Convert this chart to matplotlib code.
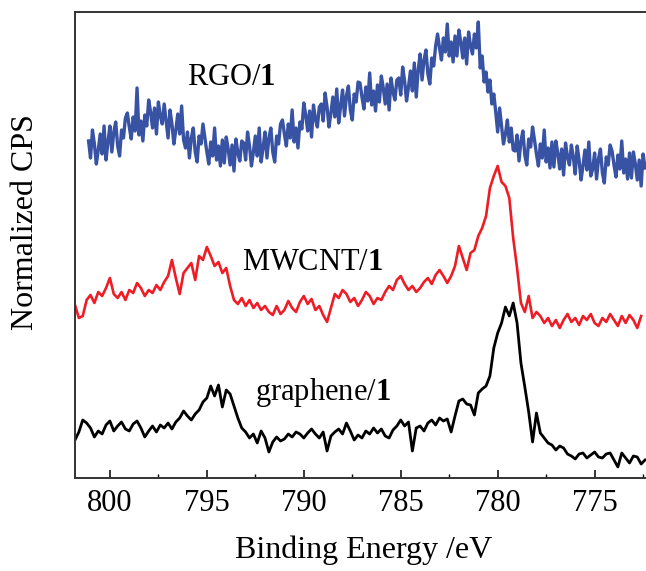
# XPS Co 2p spectra, normalized and stacked
import numpy as np
import matplotlib.pyplot as plt
from matplotlib.ticker import MultipleLocator

plt.rcParams['font.family'] = ['Liberation Serif', 'DejaVu Serif']
plt.rcParams['mathtext.fontset'] = 'custom'
plt.rcParams['mathtext.rm'] = 'Liberation Serif'
plt.rcParams['mathtext.bf'] = 'Liberation Serif:bold'

# RGO/1 : 0.1 eV steps starting at 801.1 eV
rgo_start, rgo_step = 801.1, -0.1
rgo = [
    3.37, 3.20, 3.48, 3.34, 3.14, 3.28, 3.44, 3.24, 3.52, 3.18,
    3.36, 3.52, 3.26, 3.46, 3.56, 3.32, 3.22, 3.48, 3.40, 3.60,
    3.65, 3.51, 3.39, 3.61, 3.47, 3.90, 3.43, 3.57, 3.37, 3.63,
    3.52, 3.78, 3.66, 3.50, 3.70, 3.44, 3.76, 3.62, 3.54, 3.74,
    3.57, 3.40, 3.68, 3.54, 3.34, 3.48, 3.64, 3.44, 3.72, 3.38,
    3.30, 3.46, 3.20, 3.40, 3.50, 3.26, 3.16, 3.42, 3.34, 3.54,
    3.40, 3.26, 3.14, 3.36, 3.22, 3.50, 3.18, 3.32, 3.12, 3.38,
    3.15, 3.41, 3.29, 3.13, 3.33, 3.07, 3.39, 3.25, 3.17, 3.37,
    3.35, 3.18, 3.46, 3.32, 3.12, 3.26, 3.42, 3.22, 3.50, 3.16,
    3.30, 3.46, 3.20, 3.40, 3.50, 3.26, 3.16, 3.42, 3.34, 3.54,
    3.58, 3.44, 3.32, 3.54, 3.40, 3.68, 3.36, 3.50, 3.30, 3.56,
    3.49, 3.75, 3.63, 3.47, 3.67, 3.41, 3.73, 3.59, 3.51, 3.71,
    3.74, 3.57, 3.85, 3.71, 3.51, 3.65, 3.81, 3.61, 3.89, 3.55,
    3.72, 3.88, 3.62, 3.82, 3.92, 3.68, 3.58, 3.84, 3.76, 3.96,
    3.95, 3.81, 3.69, 3.91, 3.77, 4.05, 3.73, 3.87, 3.67, 3.93,
    3.76, 4.02, 3.90, 3.74, 3.94, 3.68, 4.00, 3.86, 3.78, 3.98,
    4.00, 3.83, 4.11, 3.97, 3.77, 3.91, 4.07, 3.87, 4.15, 3.81,
    4.08, 4.24, 3.98, 4.18, 4.28, 4.04, 3.94, 4.20, 4.12, 4.32,
    4.44, 4.30, 4.18, 4.40, 4.26, 4.54, 4.22, 4.36, 4.16, 4.42,
    4.22, 4.48, 4.36, 4.20, 4.40, 4.14, 4.46, 4.32, 4.24, 4.44,
    4.30, 4.56, 4.10, 4.22, 3.96, 4.06, 3.86, 3.98, 3.74, 3.84,
    3.66, 3.46, 3.70, 3.52, 3.34, 3.44, 3.58, 3.36, 3.50, 3.28,
    3.27, 3.43, 3.17, 3.37, 3.47, 3.23, 3.13, 3.39, 3.31, 3.51,
    3.38, 3.24, 3.12, 3.34, 3.20, 3.48, 3.16, 3.30, 3.10, 3.36,
    3.11, 3.37, 3.25, 3.09, 3.29, 3.03, 3.35, 3.21, 3.13, 3.33,
    3.21, 3.04, 3.32, 3.18, 2.98, 3.12, 3.28, 3.08, 3.36, 3.02,
    3.09, 3.25, 2.99, 3.19, 3.29, 3.05, 2.95, 3.21, 3.13, 3.33,
    3.27, 3.13, 3.01, 3.23, 3.09, 3.37, 3.05, 3.19, 2.99, 3.25,
    3.00, 3.26, 3.14, 2.98, 3.18, 2.92, 3.24, 3.10,
]

# MWCNT/1 : 0.2 eV steps starting at 801.8 eV
mwcnt_start, mwcnt_step = 801.8, -0.2
mwcnt = [
    1.73, 1.60, 1.62, 1.78, 1.83, 1.75, 1.86, 1.82, 1.90, 2.00,
    1.84, 1.80, 1.86, 1.78, 1.88, 1.85, 1.95, 1.90, 1.82, 1.88,
    1.85, 1.93, 1.88, 1.96, 2.02, 2.18, 2.00, 1.84, 2.05, 2.10,
    2.15, 1.98, 2.22, 2.18, 2.31, 2.22, 2.12, 2.16, 2.05, 2.10,
    1.92, 1.78, 1.74, 1.80, 1.72, 1.78, 1.70, 1.75, 1.68, 1.72,
    1.66, 1.63, 1.72, 1.64, 1.68, 1.77, 1.70, 1.66, 1.76, 1.82,
    1.74, 1.79, 1.68, 1.72, 1.63, 1.56, 1.70, 1.84, 1.80, 1.88,
    1.84, 1.76, 1.80, 1.72, 1.78, 1.86, 1.82, 1.74, 1.80, 1.78,
    1.86, 1.92, 1.88, 1.98, 2.02, 1.94, 1.88, 1.92, 1.86, 1.90,
    1.96, 2.00, 1.94, 2.03, 2.08, 2.02, 1.95, 2.02, 2.12, 2.32,
    2.20, 2.08, 2.25, 2.28, 2.42, 2.50, 2.62, 2.90, 3.02, 3.12,
    2.96, 2.92, 2.80, 2.40, 2.10, 1.75, 1.66, 1.82, 1.60, 1.66,
    1.62, 1.55, 1.60, 1.52, 1.58, 1.50, 1.58, 1.64, 1.56, 1.60,
    1.53, 1.62, 1.58, 1.64, 1.55, 1.52, 1.60, 1.56, 1.64, 1.58,
    1.52, 1.62, 1.55, 1.63, 1.58, 1.50, 1.62,
]

# graphene/1 : 0.2 eV steps starting at 801.8 eV
graphene_start, graphene_step = 801.8, -0.2
graphene = [
    0.38, 0.46, 0.58, 0.55, 0.50, 0.41, 0.47, 0.44, 0.53, 0.57,
    0.47, 0.52, 0.56, 0.49, 0.47, 0.54, 0.57, 0.50, 0.41, 0.47,
    0.52, 0.46, 0.53, 0.50, 0.55, 0.49, 0.56, 0.60, 0.67, 0.62,
    0.58, 0.64, 0.68, 0.76, 0.80, 0.92, 0.82, 0.93, 0.71, 0.88,
    0.84, 0.72, 0.60, 0.50, 0.46, 0.40, 0.44, 0.35, 0.47, 0.40,
    0.26, 0.36, 0.41, 0.37, 0.39, 0.44, 0.41, 0.46, 0.44, 0.40,
    0.45, 0.49, 0.44, 0.40, 0.46, 0.27, 0.42, 0.46, 0.49, 0.44,
    0.55, 0.47, 0.38, 0.43, 0.40, 0.47, 0.44, 0.50, 0.45, 0.49,
    0.42, 0.40, 0.48, 0.52, 0.58, 0.52, 0.56, 0.27, 0.50, 0.52,
    0.47, 0.55, 0.58, 0.53, 0.60, 0.57, 0.59, 0.46, 0.62, 0.77,
    0.79, 0.74, 0.73, 0.63, 0.85, 0.89, 0.92, 1.02, 1.30, 1.45,
    1.55, 1.71, 1.62, 1.75, 1.55, 1.15, 0.91, 0.66, 0.36, 0.65,
    0.45, 0.40, 0.35, 0.33, 0.28, 0.32, 0.30, 0.24, 0.22, 0.19,
    0.24, 0.25, 0.20, 0.23, 0.26, 0.21, 0.20, 0.24, 0.25, 0.18,
    0.11, 0.25, 0.20, 0.15, 0.22, 0.21, 0.14, 0.18,
]

colors = ['#3953a4', '#ee1c25', '#000000']
widths = [2.4, 1.9, 2.0]
labels = ['RGO/$\\mathbf{1}$', 'MWCNT/$\\mathbf{1}$', 'graphene/$\\mathbf{1}$']
label_pos = [(796.0, 3.93), (793.2, 2.08), (792.5, 0.78)]

fig = plt.figure(figsize=(6.46, 5.71), dpi=100)
ax = fig.add_axes([75 / 646, 1 - 478 / 571, 571 / 646, 466 / 571])

series = [(rgo_start, rgo_step, rgo), (mwcnt_start, mwcnt_step, mwcnt),
          (graphene_start, graphene_step, graphene)]
for (start, step, vals), c, w in zip(series, colors, widths):
    e = start + step * np.arange(len(vals))
    ax.plot(e, vals, color=c, lw=w)

for lab, (x, y) in zip(labels, label_pos):
    ax.text(x, y, lab, fontsize=22, ha='left', va='baseline')

ax.set_xlim(801.8, 772.35)
ax.set_ylim(0, 4.66)
ax.xaxis.set_major_locator(MultipleLocator(5))
ax.xaxis.set_minor_locator(MultipleLocator(2.5))
ax.tick_params(axis='x', which='major', direction='in', length=6, width=1.1,
               labelsize=22, pad=8, top=False)
ax.tick_params(axis='x', which='minor', direction='in', length=3, width=1.0, top=False)
ax.set_yticks([])
for s in ['left', 'bottom', 'top']:
    ax.spines[s].set_linewidth(1.4)
    ax.spines[s].set_color('#333333')
ax.spines['right'].set_visible(False)

fig.text(364 / 646, 1 - 550 / 571, 'Binding Energy /eV', fontsize=23,
         ha='center', va='center')
fig.text(26 / 646, 1 - 222 / 571, 'Normalized CPS', fontsize=23,
         rotation=90, ha='center', va='center')

fig.savefig('out.png', dpi=100)
